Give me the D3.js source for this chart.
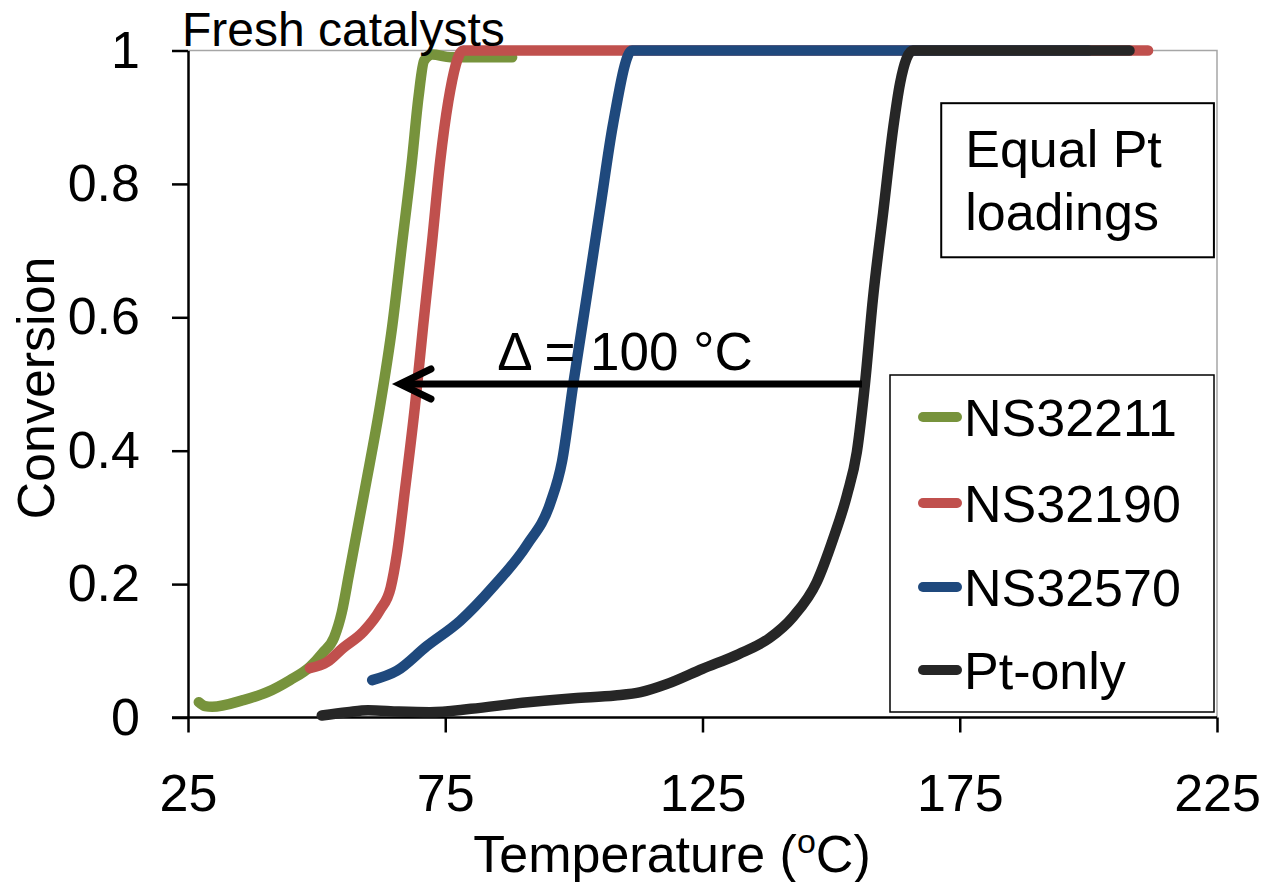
<!DOCTYPE html>
<html>
<head>
<meta charset="utf-8">
<script src="https://cdn.jsdelivr.net/npm/d3@7"></script>
<style>
  html, body { margin: 0; padding: 0; background: #fff; }
  svg { display: block; }
  text { font-family: "Liberation Sans", Arial, Helvetica, sans-serif; fill: #000; }
</style>
</head>
<body>
<svg id="chart" width="1268" height="882"></svg>
<script>
// Light-off curves: conversion vs. temperature for fresh catalysts
const seriesNames = ["NS32211", "NS32190", "NS32570", "Pt-only"];
const seriesColors = ["#77933C", "#C0504D", "#1F497D", "#262626"];

const tempNS32211 = [27.1, 28.3, 29.7, 35.7, 40.4, 44.8, 48.7, 51.2, 53.4, 54.9, 56.3, 59.4, 62.3, 64.7, 66.6, 68.5, 69.8, 70.9, 72.5, 76, 88];
const convNS32211 = [0.023, 0.017, 0.016, 0.026, 0.038, 0.056, 0.076, 0.097, 0.12, 0.158, 0.215, 0.343, 0.466, 0.587, 0.71, 0.833, 0.93, 0.985, 0.994, 0.99, 0.99];

const tempNS32190 = [48.7, 52, 55.1, 59, 62.3, 64.4, 65.6, 67.2, 69.1, 70.7, 72.4, 74, 75.6, 78.5, 90, 120, 150, 180, 211.6];
const convNS32190 = [0.074, 0.083, 0.104, 0.128, 0.161, 0.195, 0.245, 0.343, 0.466, 0.587, 0.71, 0.833, 0.924, 1.0, 1.0, 1.0, 1.0, 1.0, 1.0];

const tempNS32570 = [60.8, 65.6, 71.4, 77.9, 84.3, 90.9, 95.4, 97.7, 99.9, 102.6, 105.1, 107.6, 111.3, 125, 150, 175, 200];
const convNS32570 = [0.056, 0.07, 0.107, 0.145, 0.196, 0.259, 0.321, 0.384, 0.501, 0.636, 0.763, 0.889, 1.0, 1.0, 1.0, 1.0, 1.0];

const tempPtOnly = [51, 56, 60, 66, 72, 80, 90, 100, 108, 113, 118, 125, 132, 138, 142.6, 147.2, 150.4, 153.1, 155, 156.6, 158.1, 160.1, 162.1, 163.4, 165.9, 175, 190, 208];
const convPtOnly = [0.003, 0.008, 0.011, 0.009, 0.008, 0.013, 0.022, 0.029, 0.033, 0.038, 0.05, 0.073, 0.095, 0.119, 0.151, 0.203, 0.268, 0.334, 0.398, 0.502, 0.626, 0.756, 0.886, 0.951, 1.0, 1.0, 1.0, 1.0];

const xTicks = [25, 75, 125, 175, 225];
const yTicks = [0, 0.2, 0.4, 0.6, 0.8, 1];
const yTickLabels = ["0", "0.2", "0.4", "0.6", "0.8", "1"];

const series = [
  { name: seriesNames[0], color: seriesColors[0], t: tempNS32211, v: convNS32211 },
  { name: seriesNames[1], color: seriesColors[1], t: tempNS32190, v: convNS32190 },
  { name: seriesNames[2], color: seriesColors[2], t: tempNS32570, v: convNS32570 },
  { name: seriesNames[3], color: seriesColors[3], t: tempPtOnly, v: convPtOnly }
];

const svg = d3.select("#chart");
const plotLeft = 188, plotRight = 1217, plotTop = 50.5, plotBottom = 717.5;
const fontMain = 52;

const x = d3.scaleLinear().domain([25, 225]).range([plotLeft, plotRight]);
const y = d3.scaleLinear().domain([0, 1]).range([plotBottom, plotTop]);

// plot frame (grey top and right edges)
svg.append("path")
  .attr("d", `M${plotLeft},${plotTop}H${plotRight}V${plotBottom}`)
  .attr("fill", "none")
  .attr("stroke", "#a6a6a6")
  .attr("stroke-width", 1.5);

// x axis
const xAxis = svg.append("g")
  .attr("transform", `translate(0,${plotBottom})`)
  .call(d3.axisBottom(x).tickValues(xTicks).tickSize(15).tickSizeOuter(0).tickPadding(42).tickFormat(d3.format("d")));
xAxis.select(".domain").attr("stroke", "#000").attr("stroke-width", 2.5)
  .attr("d", `M${plotLeft - 16},0H${plotRight}`);
xAxis.selectAll(".tick line").attr("stroke", "#000").attr("stroke-width", 2.5);
xAxis.selectAll(".tick text").attr("font-size", fontMain).attr("font-family", "Liberation Sans, Arial, sans-serif").attr("fill", "#000");

// y axis
const yAxis = svg.append("g")
  .attr("transform", `translate(${plotLeft},0)`)
  .call(d3.axisLeft(y).tickValues(yTicks).tickSize(16).tickSizeOuter(0).tickPadding(32)
    .tickFormat((d, i) => yTickLabels[i]));
yAxis.select(".domain").attr("stroke", "#000").attr("stroke-width", 2.5);
yAxis.selectAll(".tick line").attr("stroke", "#000").attr("stroke-width", 2.5);
yAxis.selectAll(".tick text").attr("font-size", fontMain).attr("font-family", "Liberation Sans, Arial, sans-serif").attr("fill", "#000");

// curves
const line = d3.line()
  .x(d => x(d[0]))
  .y(d => y(d[1]))
  .curve(d3.curveMonotoneX);

svg.append("g").selectAll("path")
  .data(series)
  .join("path")
  .attr("d", s => line(s.t.map((t, i) => [t, s.v[i]])))
  .attr("fill", "none")
  .attr("stroke", s => s.color)
  .attr("stroke-width", 10.5)
  .attr("stroke-linecap", "round")
  .attr("stroke-linejoin", "round");

// axis titles
const xTitle = svg.append("text")
  .attr("x", 672).attr("y", 872)
  .attr("text-anchor", "middle")
  .attr("font-size", fontMain);
xTitle.append("tspan").text("Temperature (");
xTitle.append("tspan").text("o").attr("font-size", 34).attr("dy", -19);
xTitle.append("tspan").text("C)").attr("dy", 19);

svg.append("text")
  .attr("transform", `translate(54,${(plotTop + plotBottom) / 2 + 4}) rotate(-90)`)
  .attr("text-anchor", "middle")
  .attr("font-size", fontMain)
  .text("Conversion");

// caption above plot
svg.append("text")
  .attr("x", 182).attr("y", 46)
  .attr("font-size", 48)
  .text("Fresh catalysts");

// annotation box
const boxX0 = x(171.4), boxX1 = x(224.4), boxY0 = y(0.921), boxY1 = y(0.690);
svg.append("rect")
  .attr("x", boxX0).attr("y", boxY0)
  .attr("width", boxX1 - boxX0).attr("height", boxY1 - boxY0)
  .attr("fill", "#fff").attr("stroke", "#000").attr("stroke-width", 2);
svg.append("text").attr("x", boxX0 + 24).attr("y", boxY0 + 64).attr("font-size", fontMain).text("Equal Pt");
svg.append("text").attr("x", boxX0 + 24).attr("y", boxY0 + 127).attr("font-size", fontMain).text("loadings");

// temperature shift arrow
const arrowY = y(0.5), arrowX0 = x(156), arrowX1 = x(66.2);
svg.append("line")
  .attr("x1", arrowX0).attr("x2", arrowX1 + 3)
  .attr("y1", arrowY).attr("y2", arrowY)
  .attr("stroke", "#000").attr("stroke-width", 7);
svg.append("path")
  .attr("d", `M${arrowX1 + 31},${arrowY - 15}L${arrowX1},${arrowY}L${arrowX1 + 31},${arrowY + 15}`)
  .attr("fill", "none").attr("stroke", "#000").attr("stroke-width", 7)
  .attr("stroke-linecap", "round").attr("stroke-linejoin", "miter");
svg.append("text")
  .attr("x", x(85.1)).attr("y", y(0.521))
  .attr("font-size", 53)
  .text("Δ = 100 °C");

// legend
const lg = svg.append("g");
lg.append("rect")
  .attr("x", 890).attr("y", 375).attr("width", 324).attr("height", 337)
  .attr("fill", "#fff").attr("stroke", "#000").attr("stroke-width", 1.5);
const rows = [417, 503, 587, 670];
series.forEach((s, i) => {
  lg.append("line")
    .attr("x1", 923).attr("x2", 957)
    .attr("y1", rows[i]).attr("y2", rows[i])
    .attr("stroke", s.color).attr("stroke-width", 10).attr("stroke-linecap", "round");
  lg.append("text")
    .attr("x", 964).attr("y", rows[i] + 19)
    .attr("font-size", fontMain)
    .text(s.name);
});
</script>
</body>
</html>
